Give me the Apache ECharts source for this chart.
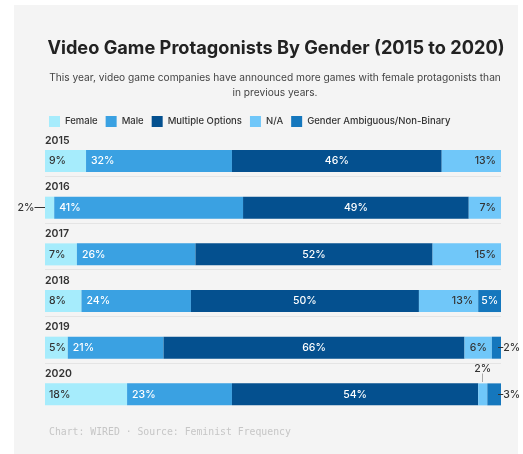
<!DOCTYPE html>
<html><head><meta charset="utf-8">
<script src="https://cdn.jsdelivr.net/npm/echarts@6/dist/echarts.min.js"></script>
<style>html,body{margin:0;padding:0;background:#fff}#c{width:523px;height:454px}</style>
</head><body><div id="c"></div>
<script>
var years = ['2015','2016','2017','2018','2019','2020'];
var female = [9, 2, 7, 8, 5, 18];
var male = [32, 41, 26, 24, 21, 23];
var multiple = [46, 49, 52, 50, 66, 54];
var na = [13, 7, 15, 13, 6, 2];
var ambiguous = [0, 0, 0, 5, 2, 3];
var seriesNames = ['Female','Male','Multiple Options','N/A','Gender Ambiguous/Non-Binary'];
var colors = ['#a6ecfc','#3aa1e2','#04508f','#70c7f9','#1577bd'];

var all = [female, male, multiple, na, ambiguous];
var totals = years.map(function(_, i){ return all.reduce(function(s,a){return s+a[i];},0); });

var FONT = 'Inter, "Noto Sans", sans-serif';
var labelCfg = [
  {position:'insideLeft', distance:4, color:'#333'},
  {position:'insideLeft', distance:5, color:'#fff'},
  {position:'inside', color:'#fff'},
  {position:'insideRight', distance:5, color:'#333'},
  {position:'inside', color:'#fff'}
];
// small segments labelled outside the bar
var outside = {
  '0-1': {position:'left', distance:0, formatter:'2%\u2014', color:'#333'},
  '4-4': {position:'right', distance:-3, formatter:'\u20132%', color:'#333'},
  '3-5': {position:'top', distance:1, formatter:'{a|2%}\n{b|\u2502}', color:'#333',
          rich:{a:{fontSize:10.5,color:'#333',fontFamily:FONT,lineHeight:11}, b:{fontSize:7,color:'#666',lineHeight:8}}},
  '4-5': {position:'right', distance:-3, formatter:'\u20133%', color:'#333'}
};

var series = all.map(function(arr, s){
  return {
    name: seriesNames[s], type:'bar', stack:'t', barWidth:22,
    xAxisIndex:0, yAxisIndex:0,
    itemStyle:{color:colors[s]},
    label:{show:true, fontSize:10.5, fontFamily:FONT, fontWeight:500,
      position:labelCfg[s].position, distance:labelCfg[s].distance, color:labelCfg[s].color,
      formatter:function(p){return p.data.raw + '%';}},
    data: arr.map(function(v, i){
      var d = {value: v / totals[i] * 100, raw: v};
      if (v === 0) { d.label = {show:false}; }
      var o = outside[s + '-' + i];
      if (o) { d.label = Object.assign({show:true, fontSize:10.5, fontFamily:FONT, fontWeight:500}, o); }
      return d;
    })
  };
});

var sepYears = years.slice(0, years.length - 1);

var chart = echarts.init(document.getElementById('c'), null, {renderer:'canvas'});
chart.setOption({
  backgroundColor:'#fff',
  animation:false,
  graphic:[{type:'rect', z:-10, shape:{x:14,y:5,width:504,height:449}, style:{fill:'#f4f4f4'}}],
  title:[{
    text:'Video Game Protagonists By Gender (2015 to 2020)',
    left:271, top:35, textAlign:'center',
    textStyle:{fontFamily:FONT, fontWeight:700, fontSize:18.2, color:'#222'}
  },{
    text:'This year, video game companies have announced more games with female protagonists than\nin previous years.',
    left:270, top:65, textAlign:'center',
    textStyle:{fontFamily:FONT, fontWeight:400, fontSize:10.2, color:'#444', lineHeight:15, align:'center'}
  },{
    text:'Chart: WIRED \u00b7 Source: Feminist Frequency',
    left:44, top:422,
    textStyle:{fontFamily:'"DejaVu Sans Mono", monospace', fontWeight:400, fontSize:9.8, color:'#c6c6c6'}
  }],
  legend:{
    left:44, top:111, itemWidth:11, itemHeight:11, itemGap:8, icon:'rect',
    textStyle:{fontFamily:FONT, fontSize:9.5, fontWeight:500, color:'#333'},
    data:seriesNames
  },
  grid:[
    {left:45, right:22, top:137.7, height:280},
    {left:45, right:22, top:129.7, height:280 * 5 / 6}
  ],
  xAxis:[
    {type:'value', gridIndex:0, min:0, max:100, show:false},
    {type:'value', gridIndex:1, min:0, max:100, show:false}
  ],
  yAxis:[
    {type:'category', gridIndex:0, data:years, inverse:true,
     axisLine:{show:false}, axisTick:{show:false}, splitLine:{show:false},
     axisLabel:{inside:true, margin:0, align:'left', verticalAlign:'bottom', padding:[0,0,15,0],
       fontFamily:FONT, fontSize:10.5, fontWeight:600, color:'#333'}},
    {type:'category', gridIndex:1, data:sepYears, inverse:true,
     axisLine:{show:false}, axisTick:{show:false}, axisLabel:{show:false},
     splitLine:{show:true, interval:function(i){ return i > 0; },
       lineStyle:{color:'#e4e4e4', width:1}}}
  ],
  series:series
});
</script></body></html>
